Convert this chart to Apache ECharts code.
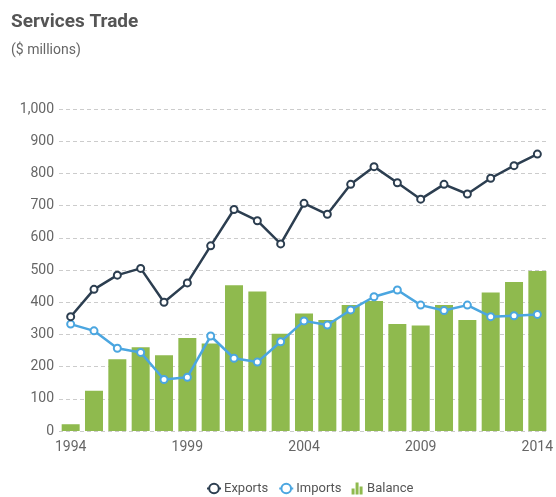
<!DOCTYPE html>
<html><head><meta charset="utf-8">
<script src="https://cdn.jsdelivr.net/npm/echarts@6/dist/echarts.min.js"></script>
<style>html,body{margin:0;padding:0;background:#fff}#c{width:556px;height:497px}</style>
</head><body><div id="c"></div>
<script>
const years = ['1994','1995','1996','1997','1998','1999','2000','2001','2002','2003','2004','2005','2006','2007','2008','2009','2010','2011','2012','2013','2014'];
const exportsData = [355,440,484,505,400,460,575,688,653,581,707,673,766,821,771,720,766,736,785,824,860];
const importsData = [332,311,257,244,160,167,295,226,214,277,342,329,376,417,438,391,374,391,355,358,362];
const balanceData = [21,125,223,260,235,289,272,453,433,302,365,345,391,404,332,328,391,345,430,463,497];
const yTicks = [0,100,200,300,400,500,600,700,800,900,1000];

const FONT = 'Roboto,sans-serif';
const chart = echarts.init(document.getElementById('c'), null, {renderer:'canvas'});
chart.setOption({
  animation:false,
  backgroundColor:'#fff',
  textStyle:{fontFamily:FONT},
  title:[
    {text:'Services Trade', left:6, top:8, textStyle:{fontFamily:FONT, fontSize:19, fontWeight:'bold', color:'#555'}},
    {text:'($ millions)', left:6, top:38, textStyle:{fontFamily:FONT, fontSize:14, fontWeight:'normal', color:'#666'}}
  ],
  grid:{left:59, right:3, top:109, bottom:66, containLabel:false},
  legend:{
    bottom:-3, left:201, itemGap:10, itemWidth:14, itemHeight:12,
    textStyle:{fontFamily:FONT, fontSize:13, color:'#555', padding:[0,0,0,-2]},
    data:[
      {name:'Exports'},
      {name:'Imports'},
      {name:'Balance', icon:'path://M0,12 L3,12 L3,6 L0,6 Z M4,12 L7,12 L7,0 L4,0 Z M8,12 L11,12 L11,4 L8,4 Z', itemStyle:{color:'#8fba4e'}}
    ]
  },
  xAxis:{
    type:'category', data:years, boundaryGap:true,
    axisLine:{show:false}, axisTick:{show:false},
    axisLabel:{interval:4, color:'#666', fontSize:14, fontFamily:FONT, margin:9}
  },
  yAxis:{
    type:'value', min:0, max:1000, interval:100,
    axisLine:{show:false}, axisTick:{show:false},
    splitLine:{lineStyle:{type:[4,3], color:'#ccc', width:1}},
    axisLabel:{color:'#666', fontSize:14, fontFamily:FONT, margin:5,
      formatter:v=>yTicks.includes(v)? v.toLocaleString('en-US') : ''}
  },
  series:[
    {name:'Balance', type:'bar', data:balanceData, barWidth:18, z:1,
     itemStyle:{color:'#8fba4e'}},
    {name:'Exports', type:'line', data:exportsData, z:3,
     symbol:'emptyCircle', symbolSize:7,
     lineStyle:{color:'#2c3e50', width:2.5}, itemStyle:{color:'#2c3e50', borderWidth:1.5}},
    {name:'Imports', type:'line', data:importsData, z:2,
     symbol:'emptyCircle', symbolSize:7,
     lineStyle:{color:'#4ba6e0', width:2.5}, itemStyle:{color:'#4ba6e0', borderWidth:1.5}}
  ]
});
</script></body></html>
